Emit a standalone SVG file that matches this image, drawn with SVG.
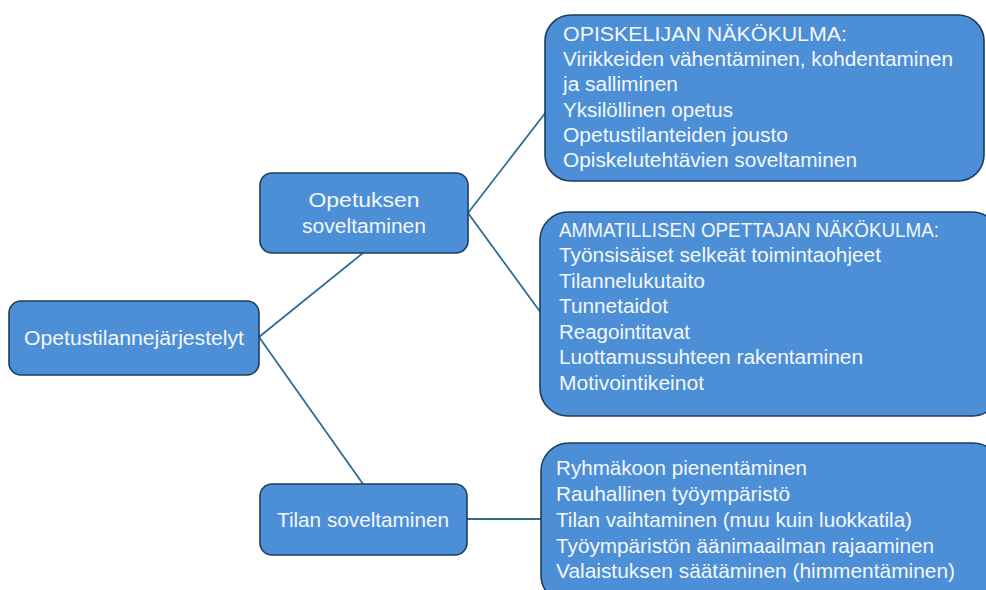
<svg xmlns="http://www.w3.org/2000/svg" width="986" height="590" viewBox="0 0 986 590">
  <style>
    .box { fill: #4C8FD7; stroke: #1D3D5C; stroke-width: 1.6; }
    .lbl { font-family: "Liberation Sans", Arial, sans-serif; font-size: 20px; fill: #F4F7FC; }
    .narrow { font-size: 21px; }
    .mid { text-anchor: middle; }
    .link { stroke: #2E6C90; stroke-width: 1.8; fill: none; }
  </style>
  <rect width="986" height="590" fill="#FFFFFF"/>

  <g id="connectors">
    <line class="link" x1="259" y1="337" x2="363" y2="253"/>
    <line class="link" x1="259" y1="337" x2="363" y2="484"/>
    <line class="link" x1="468" y1="213" x2="546" y2="112"/>
    <line class="link" x1="468" y1="213" x2="541" y2="313"/>
    <line class="link" x1="467" y1="519" x2="541" y2="519"/>
  </g>

  <g id="root">
    <rect class="box" x="9" y="301" width="250" height="74" rx="12"/>
    <text class="lbl mid" x="134" y="344.5" textLength="220" lengthAdjust="spacingAndGlyphs">Opetustilannejärjestelyt</text>
  </g>

  <g id="opetuksen-soveltaminen">
    <rect class="box" x="260" y="173" width="208" height="80" rx="12"/>
    <text class="lbl mid" x="364" y="207" textLength="111" lengthAdjust="spacingAndGlyphs">Opetuksen</text>
    <text class="lbl mid" x="364" y="233" textLength="124" lengthAdjust="spacingAndGlyphs">soveltaminen</text>
  </g>

  <g id="tilan-soveltaminen">
    <rect class="box" x="260" y="484" width="207" height="71" rx="12"/>
    <text class="lbl narrow mid" x="363" y="527" textLength="172" lengthAdjust="spacingAndGlyphs">Tilan soveltaminen</text>
  </g>

  <g id="opiskelijan-nakokulma">
    <rect class="box" x="545" y="15" width="439" height="166" rx="26"/>
    <text class="lbl" x="563" y="41" textLength="284" lengthAdjust="spacingAndGlyphs">OPISKELIJAN NÄKÖKULMA:</text>
    <text class="lbl" x="563" y="66.2" textLength="390" lengthAdjust="spacingAndGlyphs">Virikkeiden vähentäminen, kohdentaminen</text>
    <text class="lbl" x="563" y="91.4" textLength="115" lengthAdjust="spacingAndGlyphs">ja salliminen</text>
    <text class="lbl" x="563" y="116.6" textLength="170" lengthAdjust="spacingAndGlyphs">Yksilöllinen opetus</text>
    <text class="lbl" x="563" y="141.8" textLength="225" lengthAdjust="spacingAndGlyphs">Opetustilanteiden jousto</text>
    <text class="lbl" x="563" y="167" textLength="294" lengthAdjust="spacingAndGlyphs">Opiskelutehtävien soveltaminen</text>
  </g>

  <g id="opettajan-nakokulma">
    <rect class="box" x="540" y="212" width="460" height="204" rx="28"/>
    <text class="lbl" x="559" y="236.5" textLength="380" lengthAdjust="spacingAndGlyphs">AMMATILLISEN OPETTAJAN NÄKÖKULMA:</text>
    <text class="lbl" x="559" y="262" textLength="322" lengthAdjust="spacingAndGlyphs">Työnsisäiset selkeät toimintaohjeet</text>
    <text class="lbl" x="559" y="287.5" textLength="146" lengthAdjust="spacingAndGlyphs">Tilannelukutaito</text>
    <text class="lbl" x="559" y="313" textLength="109" lengthAdjust="spacingAndGlyphs">Tunnetaidot</text>
    <text class="lbl" x="559" y="338.5" textLength="131" lengthAdjust="spacingAndGlyphs">Reagointitavat</text>
    <text class="lbl" x="559" y="364" textLength="304" lengthAdjust="spacingAndGlyphs">Luottamussuhteen rakentaminen</text>
    <text class="lbl" x="559" y="389.5" textLength="145" lengthAdjust="spacingAndGlyphs">Motivointikeinot</text>
  </g>

  <g id="tilan-keinot">
    <rect class="box" x="541" y="443" width="460" height="160" rx="28"/>
    <text class="lbl narrow" x="556" y="475" textLength="251" lengthAdjust="spacingAndGlyphs">Ryhmäkoon pienentäminen</text>
    <text class="lbl narrow" x="556" y="501" textLength="234" lengthAdjust="spacingAndGlyphs">Rauhallinen työympäristö</text>
    <text class="lbl narrow" x="556" y="527" textLength="356" lengthAdjust="spacingAndGlyphs">Tilan vaihtaminen (muu kuin luokkatila)</text>
    <text class="lbl narrow" x="556" y="553" textLength="378" lengthAdjust="spacingAndGlyphs">Työympäristön äänimaailman rajaaminen</text>
    <text class="lbl narrow" x="556" y="578" textLength="399" lengthAdjust="spacingAndGlyphs">Valaistuksen säätäminen (himmentäminen)</text>
  </g>
</svg>
